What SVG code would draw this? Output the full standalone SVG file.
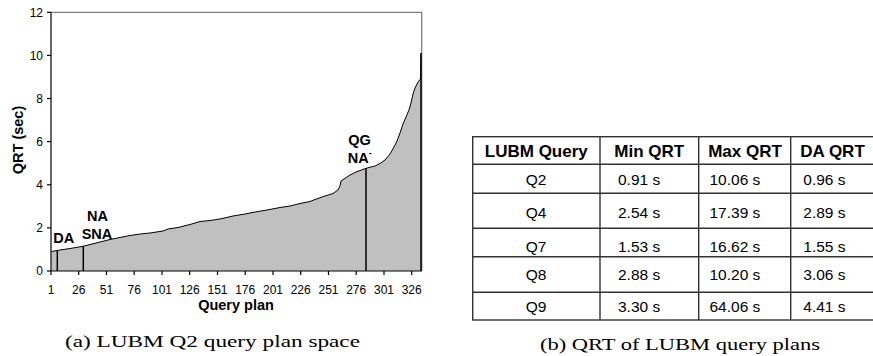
<svg xmlns="http://www.w3.org/2000/svg" width="873" height="356" viewBox="0 0 873 356">
<style>
.ax{font-family:"Liberation Sans",Arial,sans-serif;font-size:12px;fill:#000}
.bl{font-family:"Liberation Sans",Arial,sans-serif;font-weight:bold;font-size:14.5px;fill:#000}
.th{font-family:"Liberation Sans",Arial,sans-serif;font-weight:bold;font-size:17px;fill:#000;text-anchor:middle}
.td{font-family:"Liberation Sans",Arial,sans-serif;font-size:15.5px;fill:#000}
.cap{font-family:"Liberation Serif","Times New Roman",serif;font-size:16px;fill:#000;text-anchor:middle}
.tl{stroke:#333;stroke-width:1.4;fill:none}
</style>
<rect width="873" height="356" fill="#fff"/>
<g id="chart">
  <path d="M51.5,271 L51.5,251.5 L57,250.5 L70,248.5 L83,246.3 L100,242 L110,239.5 L120,237.5 L130,235.5 L140,234 L150,233 L163,231 L168,229 L178,227.5 L190,224.5 L200,221.5 L210,220.5 L220,219 L233,216 L245,214 L255,212 L267,210 L280,207.5 L290,206 L300,203.5 L310,201.5 L315,199.5 L325,196 L333,193.5 L338,190 L340,186 L341,181 L344,179 L350,175 L356,172 L366,168.3 L375,166 L380,163.5 L385,160 L390,154 L394,147 L397,141 L400,133 L403,124 L406,117 L409,110 L411,103 L413,94 L415,88 L418,82 L420.5,79 L421,55 L421.5,53 L421.5,271 Z" fill="#c0c0c0"/>
  <path d="M51.5,251.5 L57,250.5 L70,248.5 L83,246.3 L100,242 L110,239.5 L120,237.5 L130,235.5 L140,234 L150,233 L163,231 L168,229 L178,227.5 L190,224.5 L200,221.5 L210,220.5 L220,219 L233,216 L245,214 L255,212 L267,210 L280,207.5 L290,206 L300,203.5 L310,201.5 L315,199.5 L325,196 L333,193.5 L338,190 L340,186 L341,181 L344,179 L350,175 L356,172 L366,168.3 L375,166 L380,163.5 L385,160 L390,154 L394,147 L397,141 L400,133 L403,124 L406,117 L409,110 L411,103 L413,94 L415,88 L418,82 L420.5,79 L421,55 L421.5,53" fill="none" stroke="#000" stroke-width="1"/>
  <path d="M51,12.3 H421.7 V271" fill="none" stroke="#808080" stroke-width="1.3"/>
  <g stroke="#000" stroke-width="1.5">
    <line x1="57.3" y1="250.5" x2="57.3" y2="271"/>
    <line x1="83.3" y1="246.3" x2="83.3" y2="271"/>
    <line x1="366" y1="168.3" x2="366" y2="271"/>
    <line x1="421" y1="53" x2="421" y2="271"/>
  </g>
  <g stroke="#000" stroke-width="1.2">
    <line x1="51" y1="12.3" x2="51" y2="271"/>
    <line x1="51" y1="271" x2="421.7" y2="271"/>
    <line x1="47" y1="12.3" x2="51" y2="12.3"/>
    <line x1="47" y1="55.4" x2="51" y2="55.4"/>
    <line x1="47" y1="98.5" x2="51" y2="98.5"/>
    <line x1="47" y1="141.6" x2="51" y2="141.6"/>
    <line x1="47" y1="184.8" x2="51" y2="184.8"/>
    <line x1="47" y1="227.9" x2="51" y2="227.9"/>
    <line x1="47" y1="271" x2="51" y2="271"/>
    <line x1="51" y1="271" x2="51" y2="275"/>
    <line x1="78.7" y1="271" x2="78.7" y2="275"/>
    <line x1="106.5" y1="271" x2="106.5" y2="275"/>
    <line x1="134.2" y1="271" x2="134.2" y2="275"/>
    <line x1="162" y1="271" x2="162" y2="275"/>
    <line x1="189.7" y1="271" x2="189.7" y2="275"/>
    <line x1="217.5" y1="271" x2="217.5" y2="275"/>
    <line x1="245.2" y1="271" x2="245.2" y2="275"/>
    <line x1="273" y1="271" x2="273" y2="275"/>
    <line x1="300.7" y1="271" x2="300.7" y2="275"/>
    <line x1="328.5" y1="271" x2="328.5" y2="275"/>
    <line x1="356.2" y1="271" x2="356.2" y2="275"/>
    <line x1="384" y1="271" x2="384" y2="275"/>
    <line x1="411.7" y1="271" x2="411.7" y2="275"/>
  </g>
  <g class="ax" text-anchor="end">
    <text x="43" y="16.5">12</text>
    <text x="43" y="59.6">10</text>
    <text x="43" y="102.7">8</text>
    <text x="43" y="145.8">6</text>
    <text x="43" y="189">4</text>
    <text x="43" y="232.1">2</text>
    <text x="43" y="275.2">0</text>
  </g>
  <g class="ax" text-anchor="middle">
    <text x="51" y="294">1</text>
    <text x="78.7" y="294">26</text>
    <text x="106.5" y="294">51</text>
    <text x="134.2" y="294">76</text>
    <text x="162" y="294">101</text>
    <text x="189.7" y="294">126</text>
    <text x="217.5" y="294">151</text>
    <text x="245.2" y="294">176</text>
    <text x="273" y="294">201</text>
    <text x="300.7" y="294">226</text>
    <text x="328.5" y="294">251</text>
    <text x="356.2" y="294">276</text>
    <text x="384" y="294">301</text>
    <text x="411.7" y="294">326</text>
  </g>
  <text class="bl" x="236" y="310" text-anchor="middle">Query plan</text>
  <text class="bl" transform="translate(22.5,140) rotate(-90)" text-anchor="middle">QRT (sec)</text>
  <text class="bl" x="53.3" y="243.3">DA</text>
  <text class="bl" x="97.5" y="220.7" text-anchor="middle">NA</text>
  <text class="bl" x="97" y="239.3" text-anchor="middle">SNA</text>
  <text class="bl" x="348.3" y="145">QG</text>
  <text class="bl" x="347.7" y="163.3">NA<tspan font-size="9" dy="-7">-</tspan></text>
  <text class="cap" x="212.5" y="347" textLength="295" lengthAdjust="spacingAndGlyphs">(a) LUBM Q2 query plan space</text>
</g>
<g id="table">
  <rect class="tl" x="472.7" y="136.7" width="401.3" height="183.3"/>
  <line class="tl" x1="472.7" y1="164.3" x2="874" y2="164.3"/>
  <line class="tl" x1="472.7" y1="193.3" x2="874" y2="193.3"/>
  <line class="tl" x1="472.7" y1="228.3" x2="874" y2="228.3"/>
  <line class="tl" x1="472.7" y1="256.7" x2="874" y2="256.7"/>
  <line class="tl" x1="472.7" y1="292.3" x2="874" y2="292.3"/>
  <line class="tl" x1="600" y1="136.7" x2="600" y2="320"/>
  <line class="tl" x1="698.7" y1="136.7" x2="698.7" y2="320"/>
  <line class="tl" x1="790.7" y1="136.7" x2="790.7" y2="320"/>
  <text class="th" x="536.3" y="156.5">LUBM Query</text>
  <text class="th" x="649.2" y="156.5">Min QRT</text>
  <text class="th" x="745" y="156.5">Max QRT</text>
  <text class="th" x="832.5" y="156.5">DA QRT</text>
  <g class="td" text-anchor="middle">
    <text x="536" y="184.5">Q2</text>
    <text x="536" y="218">Q4</text>
    <text x="536" y="251.7">Q7</text>
    <text x="536" y="280">Q8</text>
    <text x="536" y="311.7">Q9</text>
  </g>
  <g class="td">
    <text x="618" y="184.5">0.91 s</text>
    <text x="618" y="218">2.54 s</text>
    <text x="618" y="251.7">1.53 s</text>
    <text x="618" y="280">2.88 s</text>
    <text x="618" y="311.7">3.30 s</text>
    <text x="709.5" y="184.5">10.06 s</text>
    <text x="709.5" y="218">17.39 s</text>
    <text x="709.5" y="251.7">16.62 s</text>
    <text x="709.5" y="280">10.20 s</text>
    <text x="709.5" y="311.7">64.06 s</text>
    <text x="803.3" y="184.5">0.96 s</text>
    <text x="803.3" y="218">2.89 s</text>
    <text x="803.3" y="251.7">1.55 s</text>
    <text x="803.3" y="280">3.06 s</text>
    <text x="803.3" y="311.7">4.41 s</text>
  </g>
  <text class="cap" x="680" y="350" textLength="280" lengthAdjust="spacingAndGlyphs">(b) QRT of LUBM query plans</text>
</g>
</svg>
